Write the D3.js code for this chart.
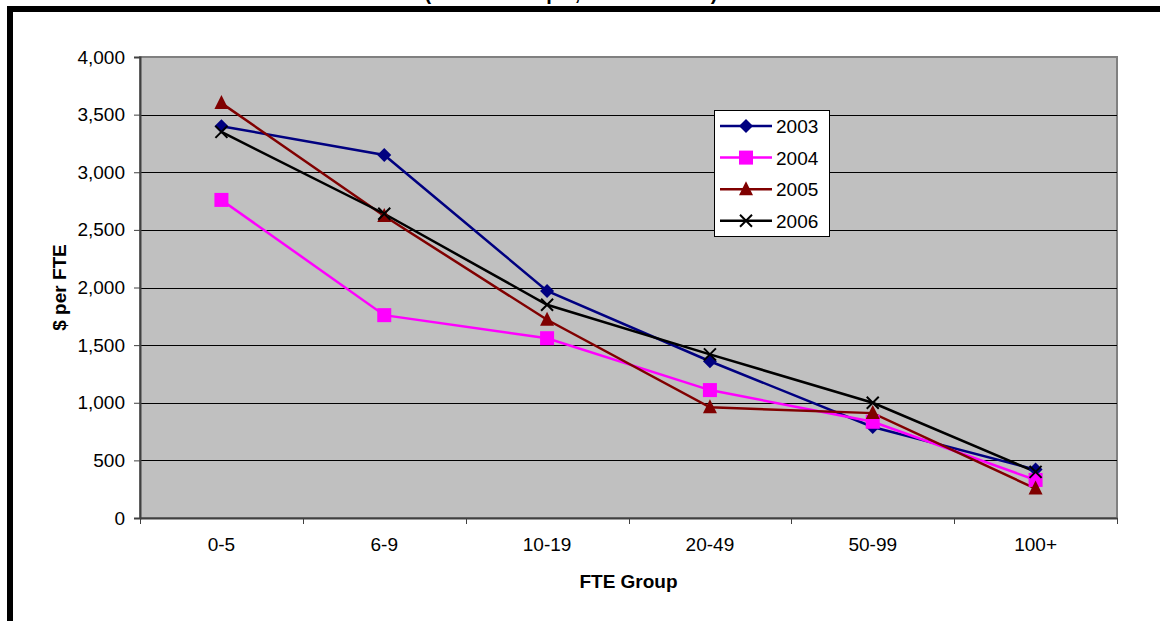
<!DOCTYPE html>
<html>
<head>
<meta charset="utf-8">
<script src="https://cdn.jsdelivr.net/npm/d3@7"></script>
<style>
  html, body { margin: 0; padding: 0; background: #fff; }
  svg { display: block; font-family: "Liberation Sans", Arial, sans-serif; }
</style>
</head>
<body>
<svg id="chart" width="1160" height="621"></svg>
<script>
const categories = ["0-5", "6-9", "10-19", "20-49", "50-99", "100+"];
const years = ["2003", "2004", "2005", "2006"];
const values2003 = [3400, 3150, 1970, 1360, 790, 420];
const values2004 = [2760, 1760, 1560, 1110, 835, 330];
const values2005 = [3600, 2620, 1720, 960, 910, 255];
const values2006 = [3350, 2640, 1850, 1420, 1000, 400];
const yTicks = [0, 500, 1000, 1500, 2000, 2500, 3000, 3500, 4000];
const colors = ["#000080", "#FF00FF", "#800000", "#000000"];
const markers = ["diamond", "square", "triangle", "cross"];
const titleText = "(FTE Groups, 2003-2006)";
const xTitle = "FTE Group";
const yTitle = "$ per FTE";

const seriesValues = [values2003, values2004, values2005, values2006];
const series = years.map((y, i) => ({ name: y, values: seriesValues[i], color: colors[i], marker: markers[i] }));

const svg = d3.select("#chart");
const plot = { left: 140, right: 1117, top: 57, bottom: 518 };

// outer frame (clipped on right and bottom)
svg.append("rect").attr("x", 10).attr("y", 9).attr("width", 1200).attr("height", 700)
  .attr("fill", "none").attr("stroke", "#000").attr("stroke-width", 6);

// title (clipped at top edge, as in the reference)
svg.append("text").attr("x", 571).attr("y", 0)
  .attr("text-anchor", "middle").attr("font-size", 20).attr("font-weight", "bold")
  .attr("textLength", 293).attr("lengthAdjust", "spacing")
  .text(titleText);

const x = d3.scaleBand().domain(categories).range([plot.left, plot.right]);
const y = d3.scaleLinear().domain([0, 4000]).range([plot.bottom, plot.top]);

// plot background
svg.append("rect").attr("x", plot.left).attr("y", plot.top)
  .attr("width", plot.right - plot.left).attr("height", plot.bottom - plot.top)
  .attr("fill", "#C0C0C0").attr("stroke", "#808080").attr("stroke-width", 2);

// gridlines
svg.append("g").selectAll("line").data(yTicks.filter(d => d > 0 && d < 4000)).join("line")
  .attr("x1", plot.left).attr("x2", plot.right)
  .attr("y1", d => Math.round(y(d)) + 0.5).attr("y2", d => Math.round(y(d)) + 0.5)
  .attr("stroke", "#000").attr("stroke-width", 1);

// y axis
const yAxis = d3.axisLeft(y).tickValues(yTicks).tickSize(6).tickPadding(9)
  .tickFormat(d3.format(","));
const gy = svg.append("g").attr("transform", `translate(${plot.left},0)`).call(yAxis);
gy.select(".domain").attr("stroke", "#404040").attr("stroke-width", 2);
gy.selectAll(".tick line").attr("stroke", "#404040");
gy.selectAll("text").attr("font-size", 19).attr("fill", "#000")
  .attr("font-family", "Liberation Sans, Arial, sans-serif");

// x axis
const xAxis = d3.axisBottom(x).tickSize(0).tickPadding(20);
const gx = svg.append("g").attr("transform", `translate(0,${plot.bottom})`).call(xAxis);
gx.select(".domain").attr("stroke", "#404040").attr("stroke-width", 2);
gx.selectAll("text").attr("font-size", 19).attr("fill", "#000")
  .attr("font-family", "Liberation Sans, Arial, sans-serif");
// boundary ticks
const bounds = categories.map(c => x(c)).concat([x(categories[categories.length - 1]) + x.bandwidth()]);
svg.append("g").selectAll("line").data(bounds).join("line")
  .attr("x1", d => Math.round(d) + 0.5).attr("x2", d => Math.round(d) + 0.5)
  .attr("y1", plot.bottom).attr("y2", plot.bottom + 6)
  .attr("stroke", "#404040").attr("stroke-width", 1);

// axis titles
svg.append("text").attr("x", (plot.left + plot.right) / 2).attr("y", 588)
  .attr("text-anchor", "middle").attr("font-size", 19).attr("font-weight", "bold").text(xTitle);
svg.append("text").attr("transform", `translate(66,${(plot.top + plot.bottom) / 2}) rotate(-90)`)
  .attr("text-anchor", "middle").attr("font-size", 19).attr("font-weight", "bold").text(yTitle);

// marker drawing
function drawMarker(g, type, color) {
  if (type === "diamond") {
    g.append("path").attr("d", "M0,-7L7,0L0,7L-7,0Z").attr("fill", color);
  } else if (type === "square") {
    g.append("rect").attr("x", -7).attr("y", -7).attr("width", 14).attr("height", 14).attr("fill", color);
  } else if (type === "triangle") {
    g.append("path").attr("d", "M0,-8L7,6L-7,6Z").attr("fill", color);
  } else if (type === "cross") {
    g.append("path").attr("d", "M-6,-6L6,6M-6,6L6,-6").attr("stroke", color).attr("stroke-width", 2).attr("fill", "none");
  }
}

const line = d3.line().x((d, i) => x(categories[i]) + x.bandwidth() / 2).y(d => y(d));

series.forEach(s => {
  svg.append("path").datum(s.values).attr("d", line)
    .attr("fill", "none").attr("stroke", s.color).attr("stroke-width", 2.5);
});
series.forEach(s => {
  s.values.forEach((v, i) => {
    const g = svg.append("g").attr("transform", `translate(${x(categories[i]) + x.bandwidth() / 2},${y(v)})`);
    drawMarker(g, s.marker, s.color);
  });
});

// legend
const lg = svg.append("g");
lg.append("rect").attr("x", 714.5).attr("y", 110.5).attr("width", 115).attr("height", 126)
  .attr("fill", "#fff").attr("stroke", "#000").attr("stroke-width", 1);
series.forEach((s, i) => {
  const cy = 126 + i * 31.6;
  lg.append("line").attr("x1", 720).attr("x2", 772).attr("y1", cy).attr("y2", cy)
    .attr("stroke", s.color).attr("stroke-width", 2.5);
  const g = lg.append("g").attr("transform", `translate(746,${cy})`);
  drawMarker(g, s.marker, s.color);
  lg.append("text").attr("x", 776).attr("y", cy + 7).attr("font-size", 19).text(s.name);
});
</script>
</body>
</html>
